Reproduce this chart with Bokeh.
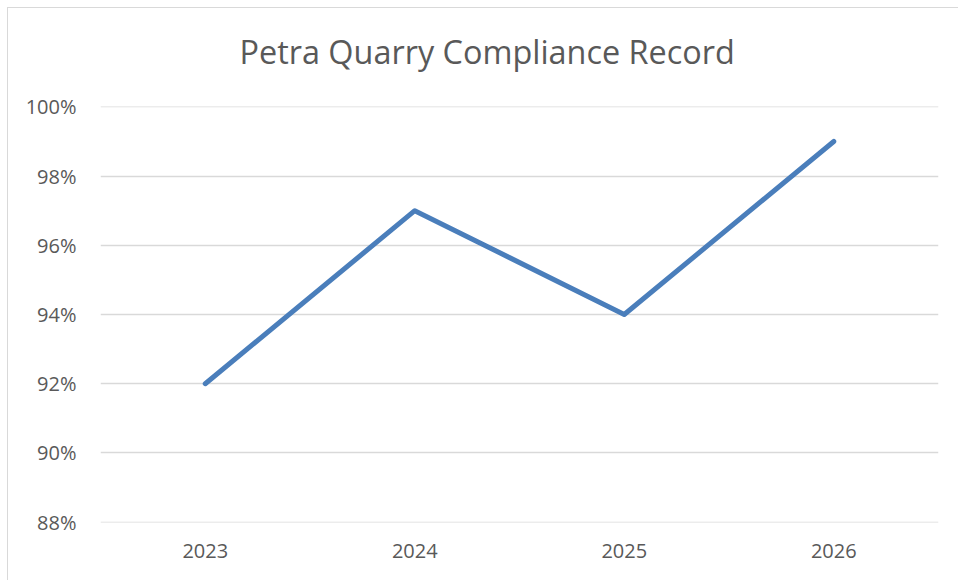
from bokeh.plotting import figure
from bokeh.embed import file_html
from bokeh.resources import INLINE
from bokeh.models import NumeralTickFormatter, FixedTicker, Range1d, Title

years = ["2023", "2024", "2025", "2026"]
compliance = [0.92, 0.97, 0.94, 0.99]
y_ticks = [0.88, 0.90, 0.92, 0.94, 0.96, 0.98, 1.00]
title_text = "Petra Quarry Compliance Record"

TEXT = "#595959"
FONT = "Open Sans"

p = figure(
    x_range=years,
    y_range=Range1d(0.8799, 1.0001),
    frame_width=838, frame_height=416,
    min_border_left=92, min_border_right=20,
    min_border_top=98, min_border_bottom=58,
    output_backend="svg", toolbar_location=None,
    title=None,
    styles={"margin-left": "7px", "margin-top": "7px",
            "border-left": "1px solid #d9d9d9", "border-top": "1px solid #d9d9d9"},
)
p.outline_line_color = None
p.background_fill_color = "white"
p.border_fill_color = "white"

# blank spacer between the title and the plot area
p.add_layout(Title(text=" ", text_font=FONT, text_font_size="10px", standoff=18), "above")
p.add_layout(Title(text=title_text, align="left", offset=139, standoff=0,
                   text_font=FONT, text_font_size="32.4px", text_font_style="normal",
                   text_color=TEXT), "above")

p.line(x=years, y=compliance, line_color="#4A7EBB", line_width=5, line_cap="round", line_join="round")

p.yaxis.ticker = FixedTicker(ticks=y_ticks)
p.yaxis.formatter = NumeralTickFormatter(format="0%")
p.yaxis.axis_line_color = None
p.yaxis.major_tick_line_color = None
p.yaxis.minor_tick_line_color = None
p.yaxis.major_label_standoff = 18
p.yaxis.major_label_text_font = FONT
p.yaxis.major_label_text_font_size = "20px"
p.yaxis.major_label_text_color = TEXT

p.xaxis.axis_line_color = None
p.xaxis.major_tick_line_color = None
p.xaxis.minor_tick_line_color = None
p.xaxis.major_label_standoff = 15
p.xaxis.major_label_text_font = FONT
p.xaxis.major_label_text_font_size = "20px"
p.xaxis.major_label_text_color = TEXT

p.xgrid.grid_line_color = None
p.ygrid.grid_line_color = "#d9d9d9"
p.ygrid.grid_line_width = 1.5

open("out.html", "w").write(file_html(p, INLINE))
